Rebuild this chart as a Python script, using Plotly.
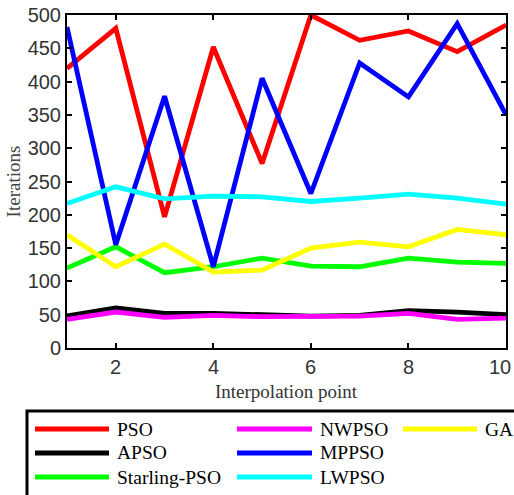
import plotly.graph_objects as go

# ---- data ----
x_points = [1, 2, 3, 4, 5, 6, 7, 8, 9, 10]
pso = [420, 480, 197, 452, 277, 500, 462, 476, 445, 485]
apso = [48, 60, 52, 52, 50, 48, 49, 56, 54, 50]
starling_pso = [120, 152, 113, 122, 135, 123, 122, 135, 129, 127]
nwpso = [43, 54, 46, 49, 47, 47, 48, 52, 43, 45]
mppso = [482, 155, 378, 122, 405, 232, 428, 377, 487, 350]
lwpso = [217, 242, 224, 228, 227, 220, 225, 231, 225, 216]
ga = [170, 122, 156, 114, 117, 150, 159, 152, 178, 170]

series_names = ["PSO", "APSO", "Starling-PSO", "NWPSO", "MPPSO", "LWPSO", "GA"]
series_values = [pso, apso, starling_pso, nwpso, mppso, lwpso, ga]
series_colors = ["#FF0000", "#000000", "#00FF00", "#FF00FF", "#0000FF", "#00FFFF", "#FFFF00"]

x_ticks = [2, 4, 6, 8, 10]
y_ticks = [0, 50, 100, 150, 200, 250, 300, 350, 400, 450, 500]

# ---- layout constants (pixels) ----
W, H = 514, 495
ML, MR, MT, MB = 67, 8, 15, 147
PW = W - ML - MR
PH = H - MT - MB

def px_to_paper_x(px):
    return (px - ML) / PW

def px_to_paper_y(py):
    return (H - MB - py) / PH

SERIF = "Liberation Serif, Times New Roman, serif"
SANS = "Liberation Sans, Arial, sans-serif"

fig = go.Figure()
for name, vals, col in zip(series_names, series_values, series_colors):
    fig.add_trace(go.Scatter(x=x_points, y=vals, mode="lines", name=name,
                             line=dict(color=col, width=4.8), showlegend=False))

shapes = []
annotations = []

# ---- x tick labels (as text so the edge label "10" is kept inside the page) ----
for t in x_ticks:
    last = (t == x_ticks[-1])
    annotations.append(dict(xref="x", yref="paper", x=t, y=px_to_paper_y(367),
                            xanchor="right" if last else "center", xshift=7 if last else 0,
                            yanchor="middle", showarrow=False, text=str(t),
                            font=dict(family=SANS, size=20, color="#333333")))
annotations.append(dict(xref="paper", yref="paper", x=0.5, y=px_to_paper_y(392),
                        xanchor="center", yanchor="middle", showarrow=False,
                        text="Interpolation point",
                        font=dict(family=SERIF, size=19, color="#333333")))

# ---- manual legend (3 rows, filled column-wise) ----
col_line_x = [(35, 109), (237, 312), (403, 477)]
row_y = [429, 453, 477]
for i, (name, col) in enumerate(zip(series_names, series_colors)):
    c, r = divmod(i, 3)
    lx0, lx1 = col_line_x[c]
    y = px_to_paper_y(row_y[r])
    shapes.append(dict(type="line", xref="paper", yref="paper",
                       x0=px_to_paper_x(lx0), x1=px_to_paper_x(lx1), y0=y, y1=y,
                       line=dict(color=col, width=4.8)))
    annotations.append(dict(xref="paper", yref="paper", x=px_to_paper_x(lx1 + 6), y=y,
                            xanchor="left", yanchor="middle", showarrow=False, text=name,
                            font=dict(family=SERIF, size=19.5, color="#000000")))
shapes.append(dict(type="rect", xref="paper", yref="paper",
                   x0=px_to_paper_x(27), x1=px_to_paper_x(530),
                   y0=px_to_paper_y(411), y1=px_to_paper_y(520),
                   line=dict(color="#000000", width=3), fillcolor="rgba(0,0,0,0)"))

fig.update_layout(
    width=W, height=H,
    margin=dict(l=ML, r=MR, t=MT, b=MB),
    paper_bgcolor="white", plot_bgcolor="white",
    shapes=shapes, annotations=annotations,
    showlegend=False,
)
fig.update_xaxes(range=[1, 10], tickvals=x_ticks, showticklabels=False,
                 showline=True, linecolor="#000000", linewidth=2, mirror="ticks",
                 ticks="inside", ticklen=5, tickwidth=2, tickcolor="#000000",
                 showgrid=False, zeroline=False, automargin=False)
fig.update_yaxes(range=[0, 500], tickvals=y_ticks, ticktext=[str(v) for v in y_ticks],
                 showline=True, linecolor="#000000", linewidth=2, mirror="ticks",
                 ticks="inside", ticklen=5, tickwidth=2, tickcolor="#000000",
                 showgrid=False, zeroline=False, automargin=False,
                 tickfont=dict(family=SANS, size=20, color="#333333"),
                 title=dict(text="Iterations", standoff=2,
                            font=dict(family=SERIF, size=19, color="#444444")))

fig.write_html("out.html")
